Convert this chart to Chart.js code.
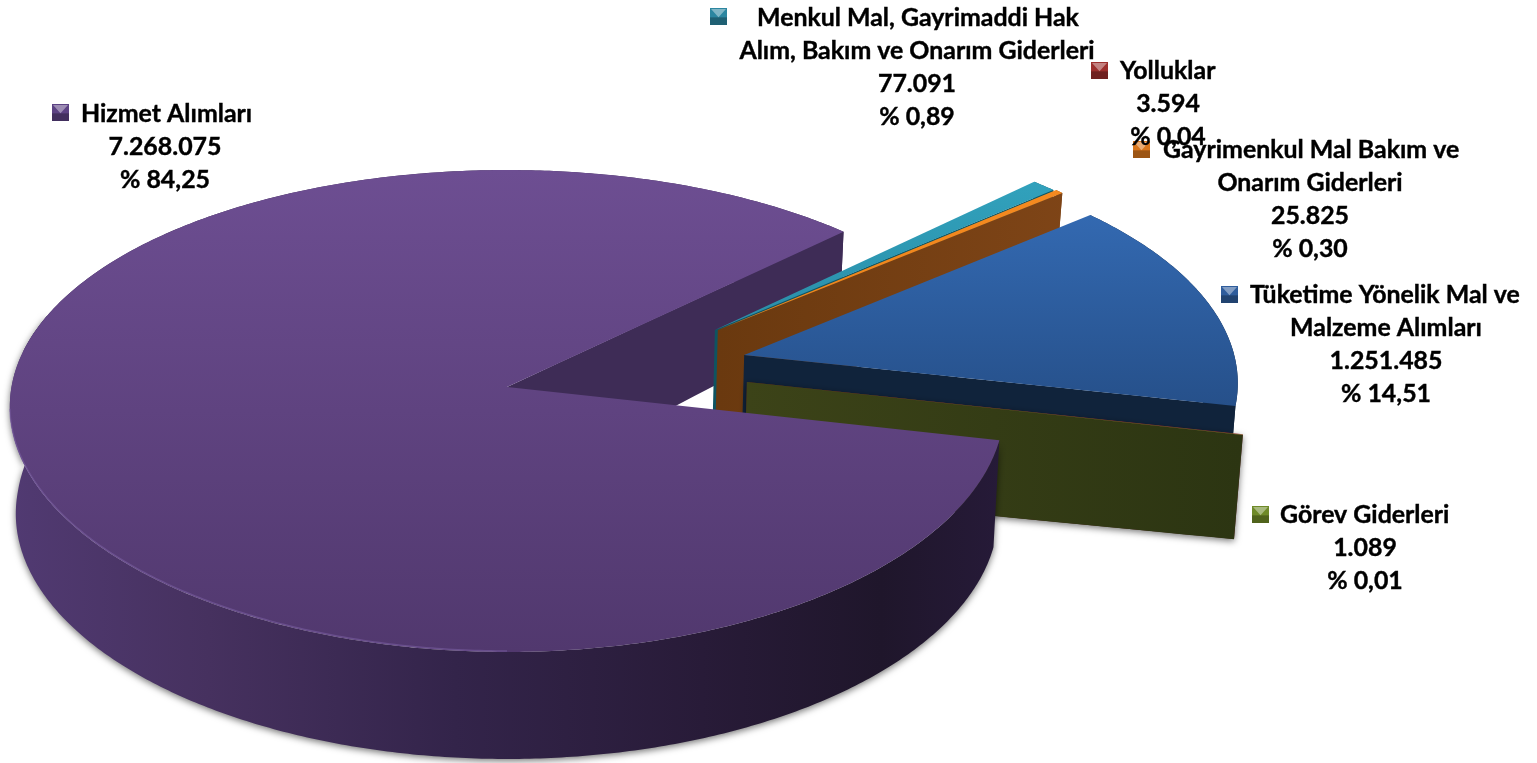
<!DOCTYPE html>
<html lang="tr">
<head>
<meta charset="utf-8">
<title>Gider dağılımı</title>
<script src="https://cdn.jsdelivr.net/npm/chart.js@4"></script>
<style>
    html, body { margin: 0; padding: 0; background: #fff; overflow: hidden; }
    canvas { display: block; }
</style>
</head>
<body>
<canvas id="grafik" width="1537" height="763"></canvas>
<script>
// --- Dados (sentido horário, a partir da borda frontal da fatia grande) ---
const categorias = [
    ['Hizmet Alımları'],
    ['Menkul Mal, Gayrimaddi Hak', 'Alım, Bakım ve Onarım Giderleri'],
    ['Gayrimenkul Mal Bakım ve', 'Onarım Giderleri'],
    ['Tüketime Yönelik Mal ve', 'Malzeme Alımları'],
    ['Yolluklar'],
    ['Görev Giderleri']
];
const valores = [7268075, 77091, 25825, 1251485, 3594, 1089];
const percentuais = ['84,25', '0,89', '0,30', '14,51', '0,04', '0,01'];

// --- Estilo ---
const coresTopo = ['#6d4e92', '#31a1bc', '#f58a20', '#3369b1', '#a8322f', '#7f9a2e'];
const coresTopoFim = ['#51386e', '#2a8ea8', '#ee8419', '#26508a', '#a8322f', '#7f9a2e'];
const coresParede = ['#3e2c56', '#0e5461', '#6a390f', '#10233b', '#6e1f1e', '#3c4318'];
const coresParedeFim = ['#3e2c56', '#0e5461', '#86491a', '#10233b', '#6e1f1e', '#2c3512'];
const coresMarcador = ['#5c4283', '#2c86a0', '#d9761c', '#2f5d9c', '#9c2f2d', '#6f8a28'];

// deslocamento de cada fatia no plano do disco (unidades de raio)
const deslocamentos = [[0, 0], [0.428, -0.245], [0.434, -0.245], [0.484, -0.136], [0.485, -0.021], [0.485, -0.021]];

const ACHATAMENTO = 0.4815;
const PERSPECTIVA = 0.0996;
const PERSPECTIVA_X = 0.082;
const ALTURA = 107;

// posição das legendas: marcador, início da 1a linha, centro das demais, y da 1a linha
const posRotulos = [
    { mx: 52, my: 104, tx: 81, cx: 165, y: 114 },
    { mx: 710, my: 8, tx: 757, cx: 917, y: 18 },
    { mx: 1133, my: 141, tx: 1163, cx: 1310, y: 150 },
    { mx: 1221, my: 286, tx: 1250, cx: 1386, y: 295 },
    { mx: 1091, my: 62, tx: 1120, cx: 1168, y: 71 },
    { mx: 1252, my: 506, tx: 1280, cx: 1365, y: 515 }
];
const ENTRELINHA = 33;

function projetar(el, u, v, embaixo) {
    const s = 1 / (1 - PERSPECTIVA * v);
    const sx = 1 / (1 - PERSPECTIVA_X * v);
    const vs = v * s;
    const R = el.outerRadius;
    if (!embaixo) {
        return [el.x + R * u * sx, el.y + R * ACHATAMENTO * vs];
    }
    // a base é um pouco menor; fica mais rasa atrás e nas fatias destacadas
    const prof = ALTURA + Math.min(0, vs * 27) - Math.max(0, u - 1) * 6;
    return [el.x + 0.988 * R * u * sx, el.y + R * ACHATAMENTO * vs + prof];
}

function pontosArco(el, d, a0, a1, embaixo) {
    const pts = [];
    const passos = Math.max(2, Math.ceil(Math.abs(a1 - a0) / 0.01));
    for (let i = 0; i <= passos; i++) {
        const a = a0 + (a1 - a0) * i / passos;
        pts.push(projetar(el, Math.cos(a) + d[0], Math.sin(a) + d[1], embaixo));
    }
    return pts;
}

function preencher(ctx, pts, cor) {
    ctx.beginPath();
    pts.forEach((p, i) => i ? ctx.lineTo(p[0], p[1]) : ctx.moveTo(p[0], p[1]));
    ctx.closePath();
    ctx.fillStyle = cor;
    ctx.fill();
}

function gradH(ctx, x0, x1, c0, c1) {
    const g = ctx.createLinearGradient(x0, 0, x1, 0);
    g.addColorStop(0, c0);
    g.addColorStop(1, c1);
    return g;
}

// parede reta da borda da fatia (do centro até o arco)
function paredeBorda(ctx, el, d, a, cor) {
    const cu = d[0], cv = d[1];
    const u = Math.cos(a) + cu, v = Math.sin(a) + cv;
    const pts = [];
    for (let t = 0; t <= 1.0001; t += 0.05) pts.push(projetar(el, cu + (u - cu) * t, cv + (v - cv) * t, false));
    for (let t = 1; t >= -0.0001; t -= 0.05) pts.push(projetar(el, cu + (u - cu) * t, cv + (v - cv) * t, true));
    preencher(ctx, pts, cor);
}

function paredeArco(ctx, el, d, a0, a1, cor) {
    const pts = pontosArco(el, d, a0, a1, false).concat(pontosArco(el, d, a0, a1, true).reverse());
    preencher(ctx, pts, cor);
}

function topo(ctx, el, d, i) {
    const pts = [projetar(el, d[0], d[1], false)].concat(pontosArco(el, d, el.startAngle, el.endAngle, false));
    const ys = pts.map(p => p[1]);
    const g = ctx.createLinearGradient(0, Math.min(...ys), 0, Math.max(...ys));
    g.addColorStop(0, el.options.backgroundColor);
    g.addColorStop(1, coresTopoFim[i]);
    preencher(ctx, pts, g);
}

function sombra(ctx, ligada) {
    ctx.shadowColor = ligada ? 'rgba(0,0,0,0.55)' : 'transparent';
    ctx.shadowBlur = ligada ? 7 : 0;
    ctx.shadowOffsetY = ligada ? 2 : 0;
}

const pizza3d = {
    id: 'pizza3d',
    // desenha as fatias a partir dos arcos calculados pelo Chart.js
    beforeDatasetsDraw(chart) {
        const ctx = chart.ctx;
        const arcos = chart.getDatasetMeta(0).data;
        const grande = arcos[0];
        const d0 = deslocamentos[0];

        ctx.save();
        // 1. fundo da fatia grande: parede interna que fica atrás das outras
        paredeArco(ctx, grande, d0, Math.PI * 1.05, grande.endAngle, coresParede[0]);
        paredeBorda(ctx, grande, d0, grande.endAngle, coresParede[0]);

        // 2. fatias destacadas, de trás para frente
        for (let i = 1; i < arcos.length; i++) {
            const el = arcos[i];
            const d = deslocamentos[i];
            const x0 = projetar(el, d[0], d[1], false)[0];
            const x1 = projetar(el, d[0] + 1, d[1], false)[0];
            const cor = gradH(ctx, x0, x1, coresParede[i], coresParedeFim[i]);
            if (i === 5) sombra(ctx, true);
            paredeArco(ctx, el, d, el.startAngle, el.endAngle, cor);
            paredeBorda(ctx, el, d, el.endAngle, cor);
            sombra(ctx, false);
            topo(ctx, el, d, i);
        }

        // 3. frente da fatia grande
        const gw = ctx.createLinearGradient(10, 0, 1000, 0);
        gw.addColorStop(0, '#513a72');
        gw.addColorStop(0.2, '#46315f');
        gw.addColorStop(0.45, '#33244a');
        gw.addColorStop(0.7, '#281b38');
        gw.addColorStop(0.88, '#1f162b');
        gw.addColorStop(1, '#261a38');
        sombra(ctx, true);
        paredeArco(ctx, grande, d0, grande.startAngle, Math.PI * 1.1, gw);
        sombra(ctx, false);
        topo(ctx, grande, d0, 0);

        // filete claro na borda frontal
        const filete = pontosArco(grande, d0, Math.PI * 0.5, Math.PI * 0.97, false);
        ctx.beginPath();
        filete.forEach((p, i) => i ? ctx.lineTo(p[0], p[1] - 1) : ctx.moveTo(p[0], p[1] - 1));
        ctx.strokeStyle = 'rgba(128,100,170,0.5)';
        ctx.lineWidth = 1.5;
        ctx.stroke();
        ctx.restore();
        return false;
    },
    afterDraw(chart) {
        const ctx = chart.ctx;
        ctx.save();
        ctx.font = 'bold 24.9px Lato';
        ctx.textBaseline = 'middle';
        ctx.lineWidth = 0.4;
        ctx.strokeStyle = '#000';
        categorias.forEach((linhas, i) => {
            const pos = posRotulos[i];
            marcador(ctx, pos.mx, pos.my, coresMarcador[i]);
            ctx.fillStyle = '#000';
            ctx.textAlign = 'left';
            ctx.fillText(linhas[0], pos.tx, pos.y);
            ctx.strokeText(linhas[0], pos.tx, pos.y);
            ctx.textAlign = 'center';
            const resto = linhas.slice(1).concat([valores[i].toLocaleString('tr-TR'), '% ' + percentuais[i]]);
            resto.forEach((txt, j) => {
                ctx.fillText(txt, pos.cx, pos.y + (j + 1) * ENTRELINHA);
                ctx.strokeText(txt, pos.cx, pos.y + (j + 1) * ENTRELINHA);
            });
        });
        ctx.restore();
    }
};

function marcador(ctx, x, y, cor) {
    const t = 17;
    ctx.fillStyle = cor;
    ctx.fillRect(x, y, t, t);
    ctx.fillStyle = 'rgba(0,0,0,0.28)';
    ctx.fillRect(x, y + t * 0.55, t, t * 0.45);
    ctx.beginPath();
    ctx.moveTo(x + 1, y + 1);
    ctx.lineTo(x + t - 1, y + 1);
    ctx.lineTo(x + t / 2, y + t * 0.55);
    ctx.closePath();
    ctx.fillStyle = 'rgba(255,255,255,0.4)';
    ctx.fill();
}

new Chart(document.getElementById('grafik'), {
    type: 'pie',
    data: {
        labels: categorias.map(l => l.join(' ')),
        datasets: [{
            data: valores,
            backgroundColor: coresTopo,
            borderWidth: 0
        }]
    },
    options: {
        responsive: false,
        animation: false,
        rotation: 102.6,
        radius: 495.5,
        layout: { padding: { left: 0, right: 523, top: 11, bottom: 0 } },
        plugins: {
            legend: { display: false },
            tooltip: { enabled: false }
        }
    },
    plugins: [pizza3d]
});
</script>
</body>
</html>
